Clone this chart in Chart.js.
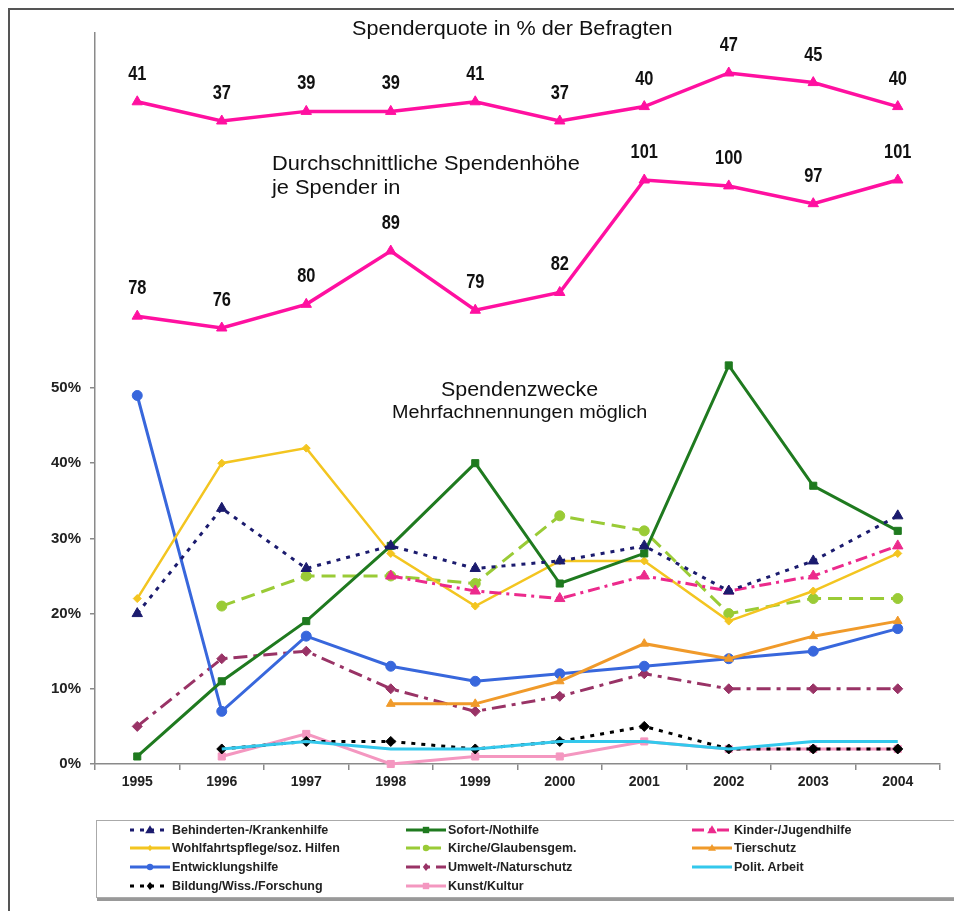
<!DOCTYPE html>
<html>
<head>
<meta charset="utf-8">
<script src="https://cdn.jsdelivr.net/npm/chart.js@4.4.1/dist/chart.umd.min.js"></script>
<style>
html, body { margin: 0; padding: 0; background: #fff; }
#wrap { position: relative; width: 954px; height: 911px; overflow: hidden; font-family: 'Liberation Sans', Arial, sans-serif; }
#frame { position: absolute; left: 8px; top: 8px; width: 980px; height: 940px; border-left: 2px solid #555; border-top: 2px solid #555; }
#chart { position: absolute; left: 0; top: 0; }
.note { position: absolute; color: #111; white-space: nowrap; line-height: 1; transform-origin: 0 0; }
#legend { position: absolute; left: 96px; top: 820px; width: 900px; height: 76px; border: 1px solid #aaa; box-shadow: 1px 3px 0 #999; background: #fff; }
.lg { position: absolute; display: flex; align-items: center; height: 14px; font-weight: bold; font-size: 12.5px; color: #222; }
.lg svg { margin-right: 2px; }
</style>
</head>
<body>
<div id="wrap">
    <div id="frame"></div>
    <canvas id="chart" width="954" height="911"></canvas>
    <div class="note" style="left:352px; top:18px; font-size:20px; transform:scaleX(1.08);">Spenderquote in % der Befragten</div>
    <div class="note" style="left:272px; top:153px; font-size:20px; transform:scaleX(1.09);">Durchschnittliche Spendenhöhe</div>
    <div class="note" style="left:272px; top:177px; font-size:20px; transform:scaleX(1.09);">je Spender in</div>
    <div class="note" style="left:441px; top:378px; font-size:21px; transform:scaleX(1.02);">Spendenzwecke</div>
    <div class="note" style="left:392px; top:403px; font-size:18px; transform:scaleX(1.1);">Mehrfachnennungen möglich</div>
    <div id="legend"></div>
</div>
<script>
// Werte
const years = ['1995', '1996', '1997', '1998', '1999', '2000', '2001', '2002', '2003', '2004'];
const spenderquote = [41, 37, 39, 39, 41, 37, 40, 47, 45, 40];
const spendenhoehe = [78, 76, 80, 89, 79, 82, 101, 100, 97, 101];

const behinderten = [20, 34, 26, 29, 26, 27, 29, 23, 27, 33];
const sofort      = [1, 11, 19, 29, 40, 24, 28, 53, 37, 31];
const kinder      = [null, null, null, 25, 23, 22, 25, 23, 25, 29];
const wohlfahrt   = [22, 40, 42, 28, 21, 27, 27, 19, 23, 28];
const kirche      = [null, 21, 25, 25, 24, 33, 31, 20, 22, 22];
const tierschutz  = [null, null, null, 8, 8, 11, 16, 14, 17, 19];
const entwicklung = [49, 7, 17, 13, 11, 12, 13, 14, 15, 18];
const umwelt      = [5, 14, 15, 10, 7, 9, 12, 10, 10, 10];
const polit       = [null, 2, 3, 2, 2, 3, 3, 2, 3, 3];
const bildung     = [null, 2, 3, 3, 2, 3, 5, 2, 2, 2];
const kunst       = [null, 1, 4, 0, 1, 1, 3, 2, 2, 2];

const pctTicks = [0, 10, 20, 30, 40, 50];

// prüfen ob die schmale Schrift da ist
function hasFont(name) {
    const c = document.createElement('canvas').getContext('2d');
    c.font = 'bold 40px monospace';
    const a = c.measureText('0123456789 abcxyz').width;
    c.font = `bold 40px "${name}", monospace`;
    const b = c.measureText('0123456789 abcxyz').width;
    return a !== b;
}
const narrow = hasFont('Liberation Sans Narrow');
const numFamily = narrow ? "'Liberation Sans Narrow'" : "'Liberation Sans'";
const numScale = narrow ? 1 : 0.82;

const PINK = '#ff10a0';

function series(label, data, color, style) {
    return Object.assign({
        label: label,
        data: data,
        yAxisID: 'y',
        borderColor: color,
        backgroundColor: color,
        pointBackgroundColor: color,
        pointBorderColor: color,
        borderWidth: 3,
        pointRadius: 5,
        pointBorderWidth: 1,
        tension: 0,
        clip: false,
        spanGaps: false,
    }, style);
}

const purposes = [
    series('Behinderten-/Krankenhilfe', behinderten, '#1b1b6e', { borderDash: [4, 6], pointStyle: 'triangle', pointRadius: 6 }),
    series('Sofort-/Nothilfe', sofort, '#1f7a1f', { pointStyle: 'rect', pointRadius: 5 }),
    series('Kinder-/Jugendhilfe', kinder, '#ec2a8c', { borderDash: [12, 5, 3, 5], pointStyle: 'triangle', pointRadius: 6 }),
    series('Wohlfahrtspflege/soz. Hilfen', wohlfahrt, '#f3c520', { borderWidth: 2.5, pointStyle: 'rectRot', pointRadius: 4 }),
    series('Kirche/Glaubensgem.', kirche, '#9acb36', { borderDash: [14, 7], pointStyle: 'circle', pointRadius: 5 }),
    series('Tierschutz', tierschutz, '#f09a2a', { pointStyle: 'triangle', pointRadius: 5 }),
    series('Entwicklungshilfe', entwicklung, '#3867dc', { pointStyle: 'circle', pointRadius: 5 }),
    series('Umwelt-/Naturschutz', umwelt, '#993366', { borderDash: [14, 6, 4, 6], pointStyle: 'rectRot', pointRadius: 5 }),
    series('Polit. Arbeit', polit, '#33c8ec', { pointRadius: 0 }),
    series('Bildung/Wiss./Forschung', bildung, '#000000', { borderDash: [4, 6], pointStyle: 'rectRot', pointRadius: 5 }),
    series('Kunst/Kultur', kunst, '#f497c0', { pointStyle: 'rect', pointRadius: 5 }),
];

const topLines = [
    series('Spenderquote', spenderquote, PINK, { yAxisID: 'yQ', borderWidth: 3.5, pointStyle: 'triangle', pointRadius: 6, showValues: true }),
    series('Spendenhöhe', spendenhoehe, PINK, { yAxisID: 'yA', borderWidth: 3.5, pointStyle: 'triangle', pointRadius: 6, showValues: true }),
];

// Zahlen über den pinken Linien
const valueLabels = {
    id: 'valueLabels',
    afterDatasetsDraw(chart) {
        const ctx = chart.ctx;
        chart.data.datasets.forEach((ds, i) => {
            if (!ds.showValues) return;
            chart.getDatasetMeta(i).data.forEach((pt, j) => {
                ctx.save();
                ctx.translate(pt.x, pt.y - 22);
                ctx.scale(numScale, 1);
                ctx.font = `bold 20px ${numFamily}, sans-serif`;
                ctx.fillStyle = '#111';
                ctx.textAlign = 'center';
                ctx.textBaseline = 'alphabetic';
                ctx.fillText(String(ds.data[j]), 0, 0);
                ctx.restore();
            });
        });
    }
};

const axisColor = '#8a8a8a';

new Chart(document.getElementById('chart').getContext('2d'), {
    type: 'line',
    data: {
        labels: years,
        datasets: topLines.concat(purposes),
    },
    options: {
        responsive: false,
        animation: false,
        layout: { padding: { top: 33, right: 14, left: 0, bottom: 0 } },
        plugins: {
            legend: { display: false },
            tooltip: { enabled: false },
        },
        scales: {
            x: {
                type: 'category',
                offset: true,
                grid: { offset: true, drawOnChartArea: false, tickLength: 6, color: axisColor, lineWidth: 1.5 },
                border: { color: axisColor, width: 1.5 },
                ticks: {
                    color: '#222',
                    padding: 4,
                    maxRotation: 0,
                    font: { family: numFamily, size: narrow ? 18 : 14, weight: 'bold' },
                },
                afterFit: s => { s.height = 147; },
            },
            y: {
                position: 'left',
                min: 0,
                max: 97.2,
                afterBuildTicks: s => { s.ticks = pctTicks.map(v => ({ value: v })); },
                grid: { drawOnChartArea: false, tickLength: 5, color: axisColor, lineWidth: 1.5 },
                border: { color: axisColor, width: 1.5 },
                ticks: {
                    color: '#222',
                    padding: 9,
                    font: { family: "'Liberation Sans'", size: 15, weight: 'bold' },
                    callback: v => v + '%',
                },
                afterFit: s => { s.width = 95; },
            },
            yQ: { display: false, min: -96.96, max: 55.33 },
            yA: { display: false, min: 2.35, max: 125.83 },
        },
    },
    plugins: [valueLabels],
});

// Legende als HTML, drei Spalten
const legendCols = [130, 406, 692];
const legendRows = [830, 848, 867, 886];

function markerSvg(style, color, r) {
    const cx = 20, cy = 7;
    if (style === 'triangle') return `<polygon points="${cx},${cy - r} ${cx + r},${cy + r * 0.7} ${cx - r},${cy + r * 0.7}" fill="${color}"/>`;
    if (style === 'rect') return `<rect x="${cx - r * 0.8}" y="${cy - r * 0.8}" width="${r * 1.6}" height="${r * 1.6}" fill="${color}"/>`;
    if (style === 'rectRot') return `<polygon points="${cx},${cy - r} ${cx + r * 0.8},${cy} ${cx},${cy + r} ${cx - r * 0.8},${cy}" fill="${color}"/>`;
    if (style === 'circle') return `<circle cx="${cx}" cy="${cy}" r="${r * 0.8}" fill="${color}"/>`;
    return '';
}

function renderLegend() {
    const box = document.getElementById('legend');
    box.innerHTML = purposes.map((ds, k) => {
        const col = k % 3, row = Math.floor(k / 3);
        const dash = ds.borderDash ? `stroke-dasharray="${ds.borderDash.join(' ')}"` : '';
        const mk = ds.pointRadius ? markerSvg(ds.pointStyle, ds.borderColor, ds.pointRadius * 0.8) : '';
        return `
            <div class="lg" style="left:${legendCols[col] - 97}px; top:${legendRows[row] - 821 - 7}px">
                <svg width="40" height="14"><line x1="0" y1="7" x2="40" y2="7" stroke="${ds.borderColor}" stroke-width="3" ${dash}/>${mk}</svg>
                <span>${ds.label}</span>
            </div>`;
    }).join('');
}
renderLegend();
</script>
</body>
</html>
